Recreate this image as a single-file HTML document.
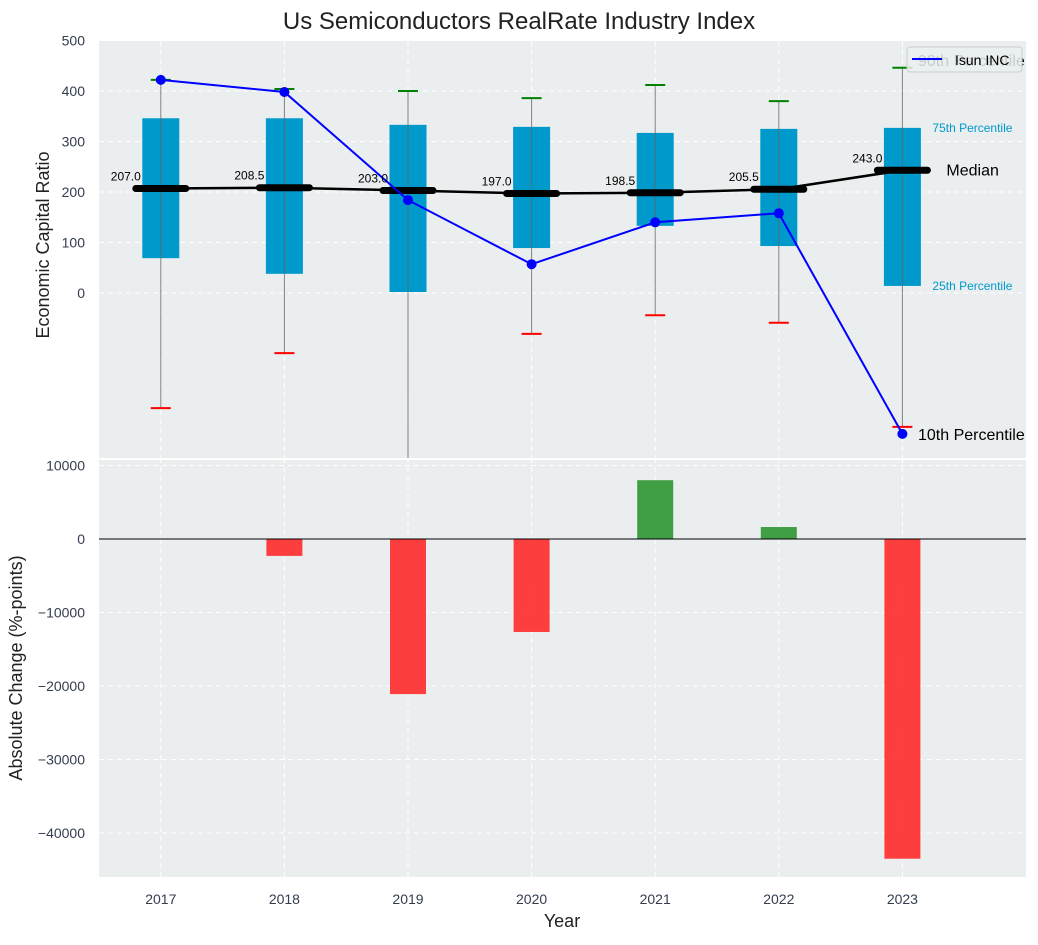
<!DOCTYPE html>
<html><head><meta charset="utf-8"><style>
body{margin:0;background:#fff;font-family:"Liberation Sans",sans-serif}
</style></head><body>
<svg id="c" width="1038" height="940" xmlns="http://www.w3.org/2000/svg" font-family="Liberation Sans, sans-serif"></svg>
<script>
const years=[2017,2018,2019,2020,2021,2022,2023];
const p75=[346,346,333,329,317,325,327];
const p25=[69,38,2,89,133,93,14];
const p90=[422,404,400,386,412,380,446];
const p10=[-228,-119,-345,-81,-44,-59,-265];
const medians=[207.0,208.5,203.0,197.0,198.5,205.5,243.0];
const isun=[422,398,184,57,140,158,-279];
const changes=[0,-2300,-21100,-12650,8000,1630,-43500];
const topTicks=[0,100,200,300,400,500];
const botTicks=[-40000,-30000,-20000,-10000,0,10000];

const svg=document.getElementById('c');const NS='http://www.w3.org/2000/svg';
function el(t,a,parent){const e=document.createElementNS(NS,t);for(const k in a)e.setAttribute(k,a[k]);(parent||svg).appendChild(e);return e;}
const L=99,R=1026;
const X=y=>L+(y-2016.5)/(2024-2016.5)*(R-L);
const T0=41,T1=458,Y1=v=>293-v*0.505;
const B0=458,B1=877,Y2=v=>539-v*0.00735;
const fmt=v=>(v<0?'\u2212':'')+Math.abs(v);

let t=el('text',{x:519,y:29,'font-size':24,'text-anchor':'middle',fill:'#222'});t.textContent='Us Semiconductors RealRate Industry Index';

let bg=el('rect',{x:L,y:T0,width:R-L,height:T1-T0,fill:'#eaeeef'});

let bg2=el('rect',{x:L,y:B0+2,width:R-L,height:B1-B0-2,fill:'#eaeeef'});

el('line',{x1:L,x2:R,y1:459,y2:459,stroke:'#fff','stroke-width':2});
topTicks.forEach(v=>{el('line',{x1:L,x2:R,y1:Y1(v),y2:Y1(v),stroke:'#fff','stroke-dasharray':'5,4','stroke-width':1});
 let tx=el('text',{x:L-14,y:Y1(v)+5,'font-size':14,'text-anchor':'end',fill:'#333d4f'});tx.textContent=fmt(v);
 });
botTicks.forEach(v=>{el('line',{x1:L,x2:R,y1:Y2(v),y2:Y2(v),stroke:'#fff','stroke-dasharray':'5,4','stroke-width':1});
 let tx=el('text',{x:L-14,y:Y2(v)+5,'font-size':14,'text-anchor':'end',fill:'#333d4f'});tx.textContent=fmt(v);
 });
years.forEach(y=>{el('line',{x1:X(y),x2:X(y),y1:T0,y2:T1,stroke:'#fff','stroke-dasharray':'5,4'});el('line',{x1:X(y),x2:X(y),y1:B0,y2:B1,stroke:'#fff','stroke-dasharray':'5,4'});
 let tx=el('text',{x:X(y),y:904,'font-size':14,'text-anchor':'middle',fill:'#333d4f'});tx.textContent=y;
 });
const clip=el('clipPath',{id:'cp'});el('rect',{x:L,y:T0,width:R-L,height:T1-T0},clip);
const g=el('g',{'clip-path':'url(#cp)'});
years.forEach((y,i)=>{const x=X(y);
 let b=el('rect',{x:x-18.5,y:Y1(p75[i]),width:37,height:Y1(p25[i])-Y1(p75[i]),fill:'#0099cc'},g);
 
 el('line',{x1:x,x2:x,y1:Y1(p90[i]),y2:Y1(p10[i]),stroke:'#666','stroke-width':1,opacity:0.8},g);
 let c1=el('line',{x1:x-10,x2:x+10,y1:Y1(p90[i]),y2:Y1(p90[i]),stroke:'green','stroke-width':2},g);
 
 let c2=el('line',{x1:x-10,x2:x+10,y1:Y1(p10[i]),y2:Y1(p10[i]),stroke:'red','stroke-width':2},g);
 
});
el('polyline',{points:years.map((y,i)=>X(y)+','+Y1(medians[i])).join(' '),fill:'none',stroke:'#000','stroke-width':2.5},g);
years.forEach((y,i)=>{const x=X(y);
 let m=el('line',{x1:x-25,x2:x+25,y1:Y1(medians[i]),y2:Y1(medians[i]),stroke:'#000','stroke-width':7,'stroke-linecap':'round'},g);
 
 let tx=el('text',{x:x-35,y:Y1(medians[i])-8,'font-size':12,'text-anchor':'middle',fill:'#000'});tx.textContent=medians[i].toFixed(1);
 });
let pl=el('polyline',{points:years.map((y,i)=>X(y)+','+Y1(isun[i])).join(' '),fill:'none',stroke:'blue','stroke-width':2},g);

years.forEach((y,i)=>{let c=el('circle',{cx:X(y),cy:Y1(isun[i]),r:5,fill:'blue'},g);});
const xe=X(2023)+30;
[[xe,Y1(p75[6])+4,'75th Percentile',12,'#0099cc'],[xe,Y1(p25[6])+4,'25th Percentile',12,'#0099cc'],[xe+14,Y1(medians[6])+5,'Median',16,'#000'],[918,Y1(isun[6])+6,'10th Percentile',16,'#000'],[918,Y1(p90[6])-2,'90th Percentile',16,'#000']].forEach(a=>{
 let tx=el('text',{x:a[0],y:a[1],'font-size':a[3],fill:a[4]});tx.textContent=a[2];});
let lg=el('g',{});
el('rect',{x:907,y:47,width:115,height:25,rx:3,fill:'#eaeeef','fill-opacity':0.85,stroke:'#ccc'},lg);
el('line',{x1:912,x2:942,y1:59,y2:59,stroke:'blue','stroke-width':2},lg);
let lt=el('text',{x:955,y:65,'font-size':14,fill:'#000'},lg);lt.textContent='Isun INC';
years.forEach((y,i)=>{const v=changes[i];let b=el('rect',{x:X(y)-18,y:Math.min(Y2(v),Y2(0)),width:36,height:Math.abs(Y2(v)-Y2(0)),fill:v>=0?'#2e9632':'#ff2a2a','fill-opacity':0.9});
 });
el('line',{x1:L,x2:R,y1:Y2(0),y2:Y2(0),stroke:'#000','stroke-width':1});
let a1=el('text',{x:0,y:0,'font-size':18,'text-anchor':'middle',fill:'#222',transform:'translate(49,245) rotate(-90)'});a1.textContent='Economic Capital Ratio';

let a2=el('text',{x:0,y:0,'font-size':18,'text-anchor':'middle',fill:'#222',transform:'translate(22,668) rotate(-90)'});a2.textContent='Absolute Change (%-points)';

let a3=el('text',{x:562,y:927,'font-size':18,'text-anchor':'middle',fill:'#222'});a3.textContent='Year';

</script>
</body></html>
